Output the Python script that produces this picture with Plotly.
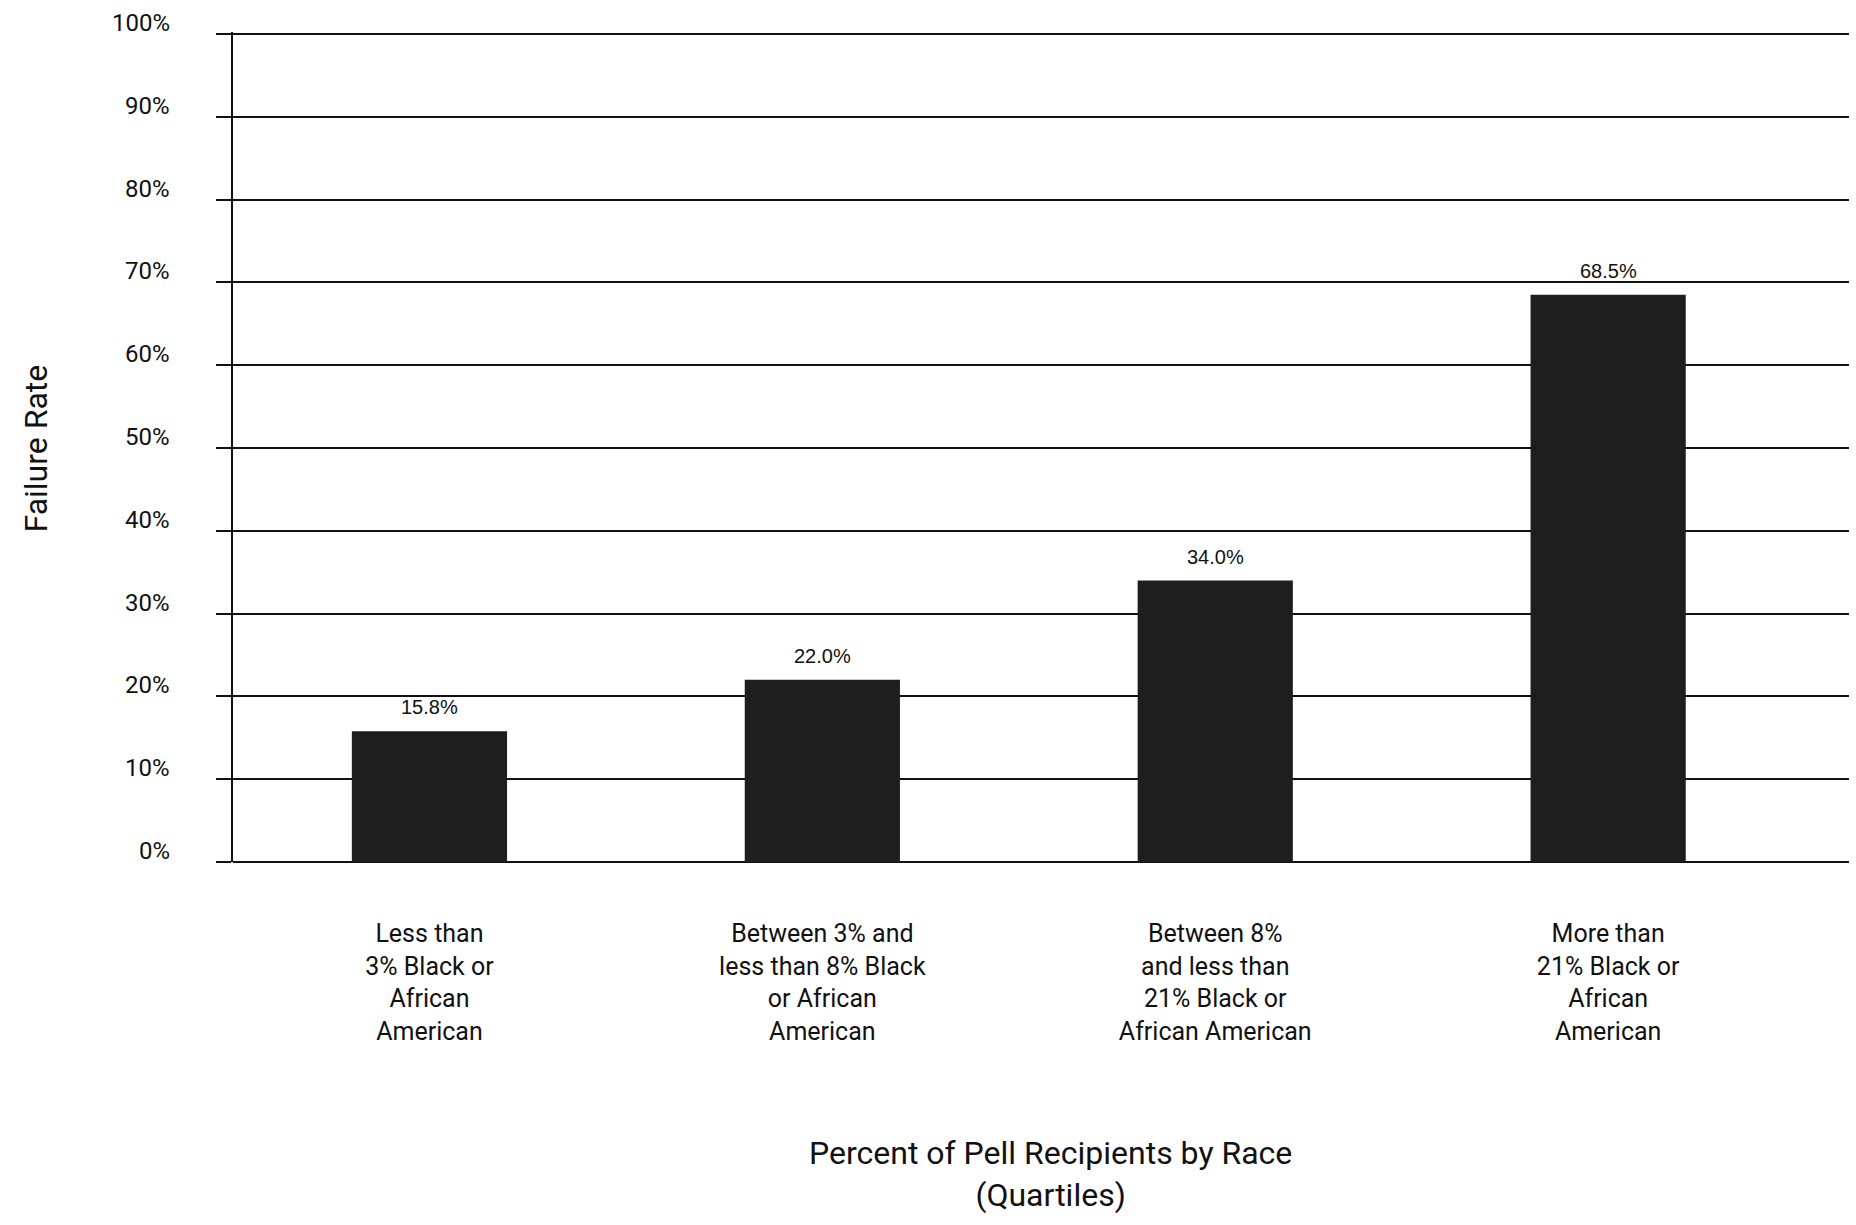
import plotly.graph_objects as go

categories = [
    "Less than<br>3% Black or<br>African<br>American",
    "Between 3% and<br>less than 8% Black<br>or African<br>American",
    "Between 8%<br>and less than<br>21% Black or<br>African American",
    "More than<br>21% Black or<br>African<br>American",
]
failure_rate = [15.8, 22.0, 34.0, 68.5]
y_ticks = [0, 10, 20, 30, 40, 50, 60, 70, 80, 90, 100]
y_tick_labels = [f"{v}%" for v in y_ticks]

NARROW = "Roboto, Liberation Sans, sans-serif"
xpos = list(range(len(categories)))

fig = go.Figure()
fig.add_trace(go.Bar(
    x=xpos, y=failure_rate, width=0.395,
    marker=dict(color="#1e1e1e", line=dict(width=0)),
    showlegend=False, hoverinfo="skip",
))
for xv, v in zip(xpos, failure_rate):
    fig.add_annotation(x=xv, y=v, text=f"{v:.1f}%", showarrow=False,
                       yanchor="bottom", yshift=11,
                       font=dict(family="Liberation Sans, Arial, sans-serif", size=20, color="#111"))

# y tick labels (sit just above each gridline, as in the original)
for v, lab in zip(y_ticks, y_tick_labels):
    fig.add_annotation(xref="paper", x=-0.0377, y=v, text=lab, showarrow=False,
                       xanchor="right", yanchor="middle", yshift=11,
                       font=dict(family=NARROW, size=24, color="#111"))

fig.add_annotation(xref="paper", yref="paper", x=0.506, y=-0.376,
                   text="Percent of Pell Recipients by Race<br>(Quartiles)",
                   showarrow=False, yanchor="middle", xanchor="center",
                   font=dict(family=NARROW, size=32, color="#111"))
fig.add_annotation(xref="paper", yref="paper", x=-0.122, y=0.498,
                   text="Failure Rate", textangle=-90, showarrow=False,
                   xanchor="center", yanchor="middle",
                   font=dict(family=NARROW, size=32, color="#111"))

fig.update_layout(
    width=1856, height=1225,
    margin=dict(l=233, r=7, t=32, b=363),
    paper_bgcolor="white", plot_bgcolor="white",
)
fig.update_xaxes(
    range=[-0.5, 3.613], tickvals=xpos, ticktext=categories,
    showgrid=False, showline=False, ticks="", zeroline=False,
    ticklabelstandoff=54,
    tickfont=dict(family=NARROW, size=25, color="#111"),
)
fig.update_yaxes(
    range=[0, 100.25], tickvals=y_ticks, showticklabels=False,
    showgrid=True, gridcolor="#111", gridwidth=2,
    showline=True, linecolor="#111", linewidth=2,
    ticks="outside", ticklen=15, tickcolor="#111", tickwidth=2,
    zeroline=True, zerolinecolor="#111", zerolinewidth=2,
)

fig.write_html("out.html")
